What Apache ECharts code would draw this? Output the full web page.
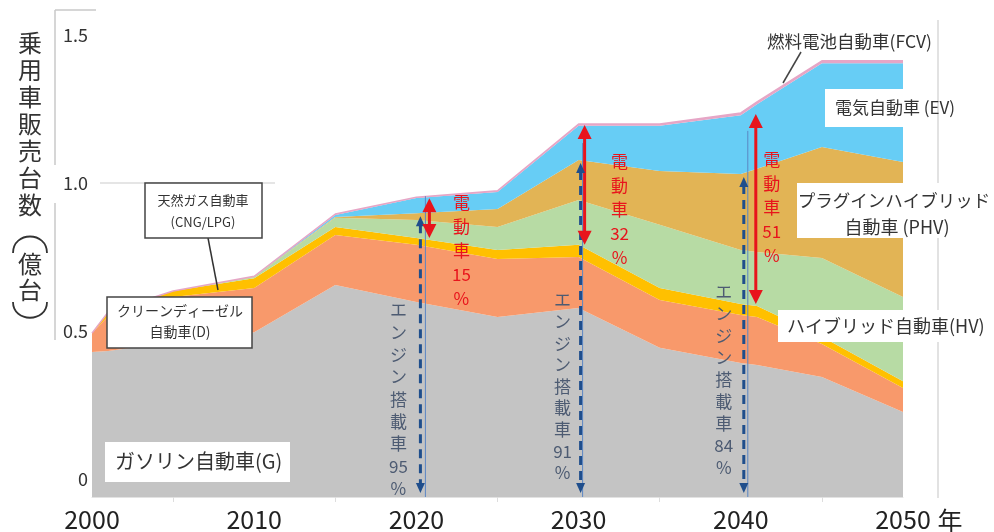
<!DOCTYPE html>
<html>
<head>
<meta charset="utf-8">
<script src="https://cdn.jsdelivr.net/npm/echarts@6/dist/echarts.min.js"></script>
<style>
  html, body { margin: 0; padding: 0; background: #fff; }
  #chart { width: 994px; height: 532px; }
</style>
</head>
<body>
<div id="chart"></div>
<script>
// Passenger car sales by powertrain (hundred million units), stacked bottom to top
const years    = [2000, 2001, 2005, 2010, 2015, 2020, 2025, 2030, 2035, 2040, 2041, 2045, 2050];
const gasoline = [0.462, 0.465, 0.494, 0.525, 0.675, 0.621, 0.573, 0.602, 0.475, 0.427, 0.420, 0.382, 0.271];
const diesel   = [0.060, 0.111, 0.143, 0.141, 0.159, 0.182, 0.185, 0.162, 0.152, 0.153, 0.153, 0.105, 0.076];
const cngLpg   = [0.000, 0.013, 0.019, 0.031, 0.026, 0.022, 0.029, 0.039, 0.039, 0.035, 0.035, 0.023, 0.022];
const hybrid   = [0.000, 0.000, 0.000, 0.004, 0.029, 0.057, 0.073, 0.143, 0.201, 0.172, 0.172, 0.251, 0.268];
const plugIn   = [0.000, 0.000, 0.000, 0.001, 0.003, 0.022, 0.057, 0.127, 0.171, 0.242, 0.265, 0.354, 0.430];
const electric = [0.000, 0.000, 0.000, 0.001, 0.006, 0.048, 0.054, 0.109, 0.144, 0.187, 0.206, 0.266, 0.314];
const fuelCell = [0.000, 0.000, 0.000, 0.000, 0.003, 0.003, 0.004, 0.006, 0.006, 0.007, 0.007, 0.008, 0.008];

const xTicks = [2000, 2010, 2020, 2030, 2040, 2050];
const yTicks = [0, 0.5, 1.0, 1.5];

// Share callouts per milestone year
const shareYears   = [2020, 2030, 2040];
const electrShare  = ['15', '32', '51'];
const engineShare  = ['95', '91', '84'];

const FONT = "'Noto Sans CJK JP', 'Noto Sans', sans-serif";

const layers = [
  { name: 'ガソリン自動車(G)', data: gasoline, color: '#c4c4c4' },
  { name: 'クリーンディーゼル自動車(D)', data: diesel, color: '#f8996b' },
  { name: '天然ガス自動車(CNG/LPG)', data: cngLpg, color: '#ffc000' },
  { name: 'ハイブリッド自動車(HV)', data: hybrid, color: '#b7dba4' },
  { name: 'プラグインハイブリッド自動車(PHV)', data: plugIn, color: '#e2b455' },
  { name: '電気自動車(EV)', data: electric, color: '#67cdf5' },
  { name: '燃料電池自動車(FCV)', data: fuelCell, color: '#e6a6c6' }
];

const chart = echarts.init(document.getElementById('chart'));

chart.setOption({
  animation: false,
  backgroundColor: '#fff',
  grid: { left: 92, right: 91, top: 26, bottom: 35, containLabel: false },
  xAxis: {
    type: 'value', min: 2000, max: 2050, interval: 10,
    axisLine: { show: true, lineStyle: { color: '#e2e2e2' } },
    axisTick: { show: false },
    minorTick: { show: true, splitNumber: 2, length: 5, lineStyle: { color: '#dddddd' } },
    splitLine: { show: false },
    axisLabel: {
      fontSize: 25, color: '#222', margin: 10, fontFamily: FONT,
      customValues: xTicks, formatter: v => String(v)
    }
  },
  yAxis: [
    {
      type: 'value', min: 0, max: 1.5,
      axisLine: { show: false }, axisTick: { show: false },
      axisLabel: { show: false }, splitLine: { show: false }
    },
    {
      // tick-label scale for the printed axis
      type: 'value', min: -0.06, max: 1.53, position: 'left',
      axisLine: { show: false }, axisTick: { show: false }, splitLine: { show: false },
      axisLabel: {
        customValues: yTicks, fontSize: 18, color: '#333', margin: 4, fontFamily: FONT,
        formatter: v => (v === 0 ? '0' : v.toFixed(1))
      }
    }
  ],
  // value first so the stack accumulates along y; year drives x
  series: layers.map((l, idx) => ({
    name: l.name,
    type: 'line',
    stack: 'sales',
    yAxisIndex: 0,
    symbol: 'none',
    silent: true,
    encode: { x: 1, y: 0 },
    lineStyle: idx === layers.length - 1 ? { width: 1.5, color: '#e6a6c6' } : { width: 0 },
    itemStyle: { color: l.color },
    areaStyle: { color: l.color, opacity: 1 },
    data: years.map((y, i) => [l.data[i], y])
  }))
});

// ---- annotations ----
const toPx = (yr, v) => chart.convertToPixel({ xAxisIndex: 0, yAxisIndex: 0 }, [yr, v]);
const cum = (upTo, i) => layers.slice(0, upTo).reduce((s, l) => s + l.data[i], 0);

const g = [];
function line(x1, y1, x2, y2, stroke, lw, dash) {
  g.push({ type: 'line', z: 50, silent: true, shape: { x1, y1, x2, y2 },
    style: { stroke, lineWidth: lw, lineDash: dash || null } });
}
function curve(x1, y1, x2, y2, cpx1, cpy1, cpx2, cpy2, stroke, lw) {
  g.push({ type: 'bezierCurve', z: 50, silent: true,
    shape: { x1, y1, x2, y2, cpx1, cpy1, cpx2, cpy2 },
    style: { stroke, lineWidth: lw, fill: null } });
}
function poly(points, fill) {
  g.push({ type: 'polygon', z: 52, silent: true, shape: { points }, style: { fill } });
}
function rect(x, y, w, h, fill, stroke, lw) {
  g.push({ type: 'rect', z: 55, silent: true, shape: { x, y, width: w, height: h },
    style: { fill, stroke: stroke || null, lineWidth: lw || 0 } });
}
function text(x, y, str, size, opt) {
  g.push({ type: 'text', z: 60, silent: true, x, y,
    style: Object.assign({ text: str, fill: '#333', fontSize: size, fontFamily: FONT,
      align: 'center', verticalAlign: 'middle' }, opt || {}) });
}
function head(x, y, dir, half, len, fill) {
  // dir: -1 pointing up, +1 pointing down; (x, y) is the tip
  poly([[x, y], [x - half, y - dir * len], [x + half, y - dir * len]], fill);
}
function vtext(x, yFirst, parts, size, lh, fill) {
  text(x, yFirst - lh / 2, parts.join('\n'), size,
    { fill, lineHeight: lh, verticalAlign: 'top' });
}

const RED = '#e8141c', NAVY = '#1f4e8c', THIN = '#5b86c4';
// per-year offsets of the arrows from the year position (px)
const redDx = [13, 6, 15], dashDx = [4, 2, 3], thinDx = [9, 4, 7], thinRise = [20, 20, 46];
const redTxt = [[45, 203], [41, 162], [31, 160]];
const engTxt = [[-18, 310, 22.3], [-16, 300, 21.6], [-17, 292, 22]];

shareYears.forEach((yr, k) => {
  const i = years.indexOf(yr);
  const x0 = toPx(yr, 0)[0];
  const yTotal = toPx(yr, cum(7, i))[1];
  const yEngineOnly = toPx(yr, cum(3, i))[1];
  const yEngineAll = toPx(yr, cum(5, i))[1];
  const yBase = toPx(yr, 0)[1];

  // thin guide line
  const xt = x0 + thinDx[k];
  line(xt, yEngineAll + 3 - thinRise[k], xt, yBase, THIN, 1);

  // engine-equipped vehicles: dashed double arrow
  const xd = x0 + dashDx[k];
  const top = yEngineAll + 3, bot = yBase - 4;
  line(xd, top + 8, xd, bot - 8, NAVY, 3, [9, 6]);
  head(xd, top, -1, 4.5, 10, NAVY);
  head(xd, bot, 1, 4.5, 10, NAVY);

  // electrified vehicles: red double arrow
  const xr = x0 + redDx[k];
  const rt = yTotal + 1, rb = yEngineOnly;
  line(xr, rt + 10, xr, rb - 10, RED, 3);
  head(xr, rt, -1, 7, 14, RED);
  head(xr, rb, 1, 7, 14, RED);

  vtext(x0 + redTxt[k][0], redTxt[k][1], ['電', '動', '車', electrShare[k], '%'], 17, 23.8, RED);
  vtext(x0 + engTxt[k][0], engTxt[k][1],
    ['エ', 'ン', 'ジ', 'ン', '搭', '載', '車', engineShare[k], '%'], 17, engTxt[k][2], '#4d5b72');
});

// frame lines
line(55, 10, 55, 165, '#c8c8c8', 1.5);
line(55, 203, 55, 340, '#c8c8c8', 1.5);
line(55, 10, 96, 10, '#c8c8c8', 1.5);
line(938, 20, 938, 498, '#d8d8d8', 1.5);
line(100, 183, 275, 183, '#dcdcdc', 1.5);

// axis title (vertical, with turned brackets)
text(30, 29, ['乗', '用', '車', '販', '売', '台', '数'].join('\n'), 24,
  { lineHeight: 27, verticalAlign: 'top', fill: '#333' });
curve(13, 253, 47, 253, 13, 231, 47, 231, '#333', 1.8);
text(30, 264, '億', 24, { fill: '#333' });
text(30, 290, '台', 24, { fill: '#333' });
curve(13, 302, 47, 302, 13, 323, 47, 323, '#333', 1.8);
text(950, 520, '年', 25, { fill: '#222' });

// series labels
rect(145, 183, 117, 55, '#fff', '#444', 1.5);
text(203, 200, '天然ガス自動車', 13);
text(203, 222, '(CNG/LPG)', 13);
line(208, 238, 218, 290, '#333', 1.5);

rect(107, 297, 145, 51, '#fff', '#444', 1.5);
text(180, 311, 'クリーンディーゼル', 14);
text(180, 332, '自動車(D)', 14);

rect(105, 442, 185, 40, '#fff');
text(115, 461, 'ガソリン自動車(G)', 20, { align: 'left' });

rect(825, 89, 78, 38, '#fff');
text(835, 108, '電気自動車 (EV)', 17, { align: 'left' });

rect(797, 183, 197, 55, '#fff');
text(894, 200, 'プラグインハイブリッド', 17.5);
text(897, 227, '自動車 (PHV)', 18);

rect(778, 310, 216, 32, '#fff');
text(787, 326, 'ハイブリッド自動車(HV)', 18, { align: 'left' });

text(767, 41, '燃料電池自動車(FCV)', 17.5, { align: 'left' });
line(801, 52, 783, 83, '#444', 1.5);

chart.setOption({ graphic: { elements: g } });
</script>
</body>
</html>
